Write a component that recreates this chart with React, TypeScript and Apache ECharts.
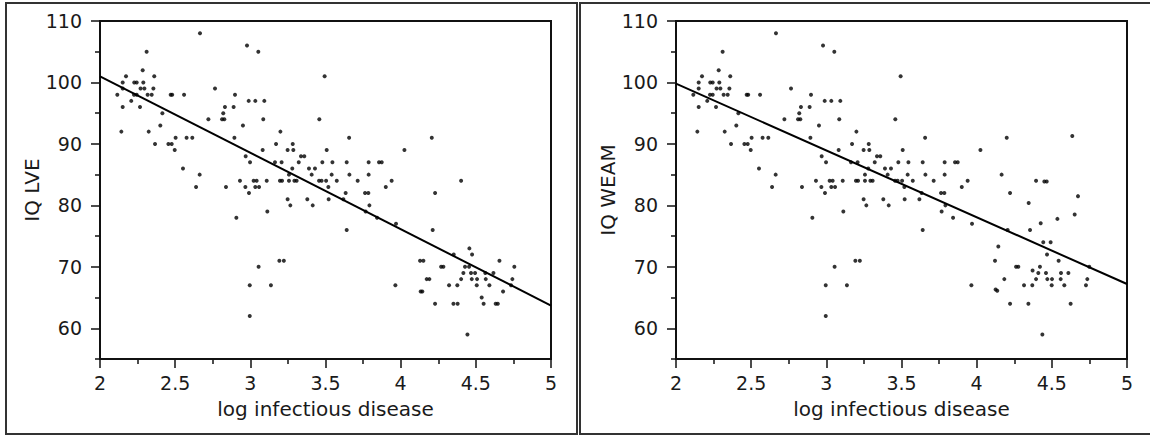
import React, { useEffect, useRef } from "react";
import * as echarts from "echarts";

// Points identical in both panels (x = log infectious disease, y = IQ)
const sharedPoints: [number, number][] = [
  [2.665, 108], [2.978, 106], [2.31, 105], [3.053, 105], [2.284, 102], [2.173, 101], [2.361, 101], [3.494, 101],
  [2.151, 100], [2.228, 100], [2.244, 100], [2.288, 100],
  [2.151, 99], [2.27, 99], [2.295, 99], [2.355, 99], [2.765, 99],
  [2.115, 98], [2.226, 98], [2.244, 98], [2.317, 98], [2.344, 98], [2.47, 98], [2.48, 98], [2.559, 98], [2.898, 98],
  [2.208, 97], [2.989, 97], [3.033, 97], [3.093, 97],
  [2.151, 96], [2.266, 96], [2.831, 96], [2.889, 96],
  [2.415, 95], [2.82, 95],
  [2.721, 94], [2.812, 94], [2.827, 94], [3.086, 94], [3.459, 94],
  [2.401, 93], [2.951, 93],
  [2.142, 92], [2.324, 92], [3.2, 92],
  [2.503, 91], [2.576, 91], [2.614, 91], [2.894, 91], [3.657, 91],
  [2.366, 90], [2.455, 90], [2.477, 90], [3.171, 90], [3.282, 90],
  [2.497, 89], [3.082, 89], [3.248, 89], [3.286, 89], [3.508, 89], [4.025, 89],
  [2.969, 88], [3.337, 88], [3.359, 88],
  [2.998, 87], [3.164, 87], [3.208, 87], [3.322, 87], [3.479, 87], [3.546, 87], [3.641, 87], [3.787, 87], [3.856, 87], [3.874, 87],
  [2.552, 86], [3.279, 86], [3.39, 86], [3.43, 86],
  [2.663, 85], [3.257, 85], [3.408, 85], [3.541, 85], [3.659, 85], [3.787, 85],
  [2.931, 84], [3.022, 84], [3.042, 84], [3.109, 84], [3.197, 84], [3.211, 84], [3.257, 84], [3.293, 84], [3.308, 84],
  [3.457, 84], [3.474, 84], [3.504, 84], [3.575, 84], [3.714, 84], [3.94, 84],
  [2.639, 83], [2.838, 83], [2.967, 83], [3.033, 83], [3.058, 83], [3.519, 83], [3.901, 83],
  [2.991, 82], [3.634, 82], [3.763, 82], [3.785, 82],
  [3.248, 81], [3.379, 81], [3.521, 81], [3.619, 81],
  [3.266, 80], [3.415, 80], [3.792, 80],
  [3.113, 79], [3.767, 79],
  [2.907, 78], [3.843, 78],
  [3.969, 77],
  [3.641, 76],
  [3.193, 71], [3.223, 71],
  [3.055, 70],
  [2.996, 67], [3.137, 67], [3.965, 67],
  [2.996, 62],
];

// Points that differ: IQ LVE
const lveOnly: [number, number][] = [
  [4.207, 91], [4.402, 84], [4.229, 82], [4.213, 76], [4.457, 73], [4.353, 72], [4.475, 72],
  [4.129, 71], [4.151, 71], [4.657, 71],
  [4.269, 70], [4.284, 70], [4.428, 70], [4.455, 70], [4.756, 70],
  [4.417, 69], [4.468, 69], [4.495, 69], [4.563, 69], [4.617, 69],
  [4.173, 68], [4.191, 68], [4.402, 68], [4.473, 68], [4.508, 68], [4.566, 68], [4.743, 68],
  [4.322, 67], [4.377, 67], [4.506, 67], [4.59, 67], [4.734, 67],
  [4.133, 66], [4.144, 66], [4.681, 66],
  [4.539, 65],
  [4.229, 64], [4.351, 64], [4.379, 64], [4.552, 64], [4.632, 64], [4.646, 64],
  [4.444, 59],
];

// Points that differ: IQ WEAM
const weamOnly: [number, number][] = [
  [4.636, 91.3], [4.2, 91], [4.166, 85], [4.395, 84], [4.45, 83.9], [4.466, 83.9], [4.222, 82], [4.674, 81.5],
  [4.346, 80.4], [4.652, 78.5], [4.537, 77.8], [4.426, 77.1], [4.206, 76], [4.355, 76], [4.443, 74], [4.492, 74],
  [4.144, 73.3], [4.468, 72], [4.122, 71], [4.545, 71],
  [4.262, 70], [4.277, 70], [4.421, 70], [4.749, 70], [4.372, 69.4],
  [4.41, 69], [4.461, 69], [4.561, 69], [4.61, 69],
  [4.184, 68], [4.395, 68], [4.47, 68], [4.501, 68], [4.559, 68], [4.736, 68],
  [4.315, 67], [4.37, 67], [4.499, 67], [4.583, 67], [4.727, 67],
  [4.126, 66.3], [4.137, 66.1],
  [4.222, 64], [4.344, 64], [4.625, 64],
  [4.437, 59],
];

// Fitted regression lines (end points)
const lveFit: [number, number][] = [[2, 101.0], [5, 63.7]];
const weamFit: [number, number][] = [[2, 99.8], [5, 67.2]];

const yMajorTicks = [60, 70, 80, 90, 100, 110];
const yMinorTicks = [55, 65, 75, 85, 95, 105];
const xName = "log infectious disease";
const yNames = ["IQ LVE", "IQ WEAM"];

const FONT = "DejaVu Sans";
const INK = "#111";
const TXT = "#1a1a1a";

export default function App() {
  const ref = useRef<HTMLDivElement>(null);
  useEffect(() => {
    document.body.style.margin = "0";
    if (!ref.current) return;
    const chart = echarts.init(ref.current, undefined, { renderer: "svg" });
    const lefts = [100, 676];
    const grids = lefts.map((l) => ({
      left: l,
      top: 21,
      width: 451,
      height: 338,
      show: true,
      borderColor: INK,
      borderWidth: 2,
      backgroundColor: "transparent",
    }));
    const xAxes = lefts.map((_, i) => ({
      gridIndex: i,
      type: "value",
      min: 2,
      max: 5,
      interval: 0.5,
      axisLine: { show: true, onZero: false, lineStyle: { color: INK, width: 2 } },
      axisTick: { show: true, length: 9, lineStyle: { color: INK, width: 1.5 } },
      minorTick: { show: true, splitNumber: 2, length: 5, lineStyle: { color: INK, width: 1.5 } },
      splitLine: { show: false },
      minorSplitLine: { show: false },
      axisLabel: { fontSize: 19, color: TXT, fontFamily: FONT, margin: 14 },
      name: xName,
      nameLocation: "middle",
      nameGap: 40,
      nameTextStyle: { fontSize: 20, color: TXT, fontFamily: FONT },
    }));
    const yAxes: any[] = [];
    lefts.forEach((_, i) => {
      yAxes.push({
        gridIndex: i,
        type: "value",
        position: "left",
        min: 55,
        max: 110,
        axisLine: { show: true, onZero: false, lineStyle: { color: INK, width: 2 } },
        axisTick: { show: true, length: 9, customValues: yMajorTicks, lineStyle: { color: INK, width: 1.5 } },
        splitLine: { show: false },
        axisLabel: { fontSize: 19, color: TXT, fontFamily: FONT, margin: 18, customValues: yMajorTicks },
        name: yNames[i],
        nameLocation: "middle",
        nameGap: 58,
        nameTextStyle: { fontSize: 20, color: TXT, fontFamily: FONT },
      });
      yAxes.push({
        gridIndex: i,
        type: "value",
        position: "left",
        offset: 0,
        min: 55,
        max: 110,
        axisLine: { show: false },
        axisTick: { show: true, length: 5, customValues: yMinorTicks, lineStyle: { color: INK, width: 1.5 } },
        splitLine: { show: false },
        axisLabel: { show: false },
      });
    });
    const dot = { type: "scatter", symbol: "circle", symbolSize: 4, itemStyle: { color: "#000" } };
    const fitLine = { type: "line", showSymbol: false, symbol: "none", lineStyle: { color: "#000", width: 2 } };
    chart.setOption({
      animation: false,
      backgroundColor: "#fff",
      textStyle: { fontFamily: FONT },
      grid: grids,
      xAxis: xAxes,
      yAxis: yAxes,
      graphic: [
        { type: "rect", shape: { x: 6, y: 3, width: 571, height: 431 }, style: { fill: "none", stroke: "#333", lineWidth: 2 }, silent: true },
        { type: "rect", shape: { x: 580, y: 3, width: 575, height: 431 }, style: { fill: "none", stroke: "#333", lineWidth: 2 }, silent: true },
      ],
      series: [
        { ...dot, xAxisIndex: 0, yAxisIndex: 0, data: [...sharedPoints, ...lveOnly] },
        { ...fitLine, xAxisIndex: 0, yAxisIndex: 0, data: lveFit },
        { ...dot, xAxisIndex: 1, yAxisIndex: 2, data: [...sharedPoints, ...weamOnly] },
        { ...fitLine, xAxisIndex: 1, yAxisIndex: 2, data: weamFit },
      ],
    });
    return () => chart.dispose();
  }, []);
  return <div ref={ref} style={{ width: 1150, height: 435 }} />;
}
